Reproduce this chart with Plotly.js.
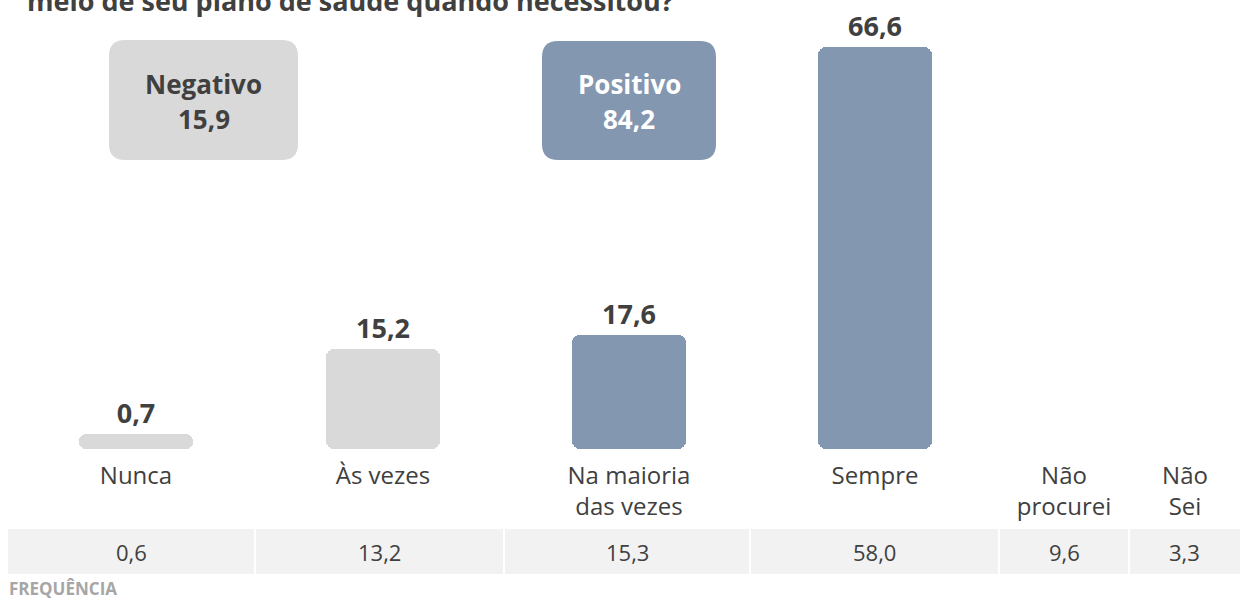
<!DOCTYPE html>
<html>
<head>
<meta charset="utf-8">
<script src="https://cdn.plot.ly/plotly-3.0.1.min.js"></script>
<style>
  body { margin: 0; background: #fff; }
  #chart { width: 1247px; height: 600px; }
</style>
</head>
<body>
<div id="chart"></div>
<script>
// answers with a bar (valid %), plus the two extra columns of the table
var categories = ["Nunca", "Às vezes", "Na maioria<br>das vezes", "Sempre", "Não<br>procurei", "Não<br>Sei"];
var validPct = [0.7, 15.2, 17.6, 66.6];
var frequency = [0.6, 13.2, 15.3, 58.0, 9.6, 3.3];
var negLabel = "Negativo";
var posLabel = "Positivo";
var titleLine = "meio de seu plano de saúde quando necessitou?";
var footLabel = "FREQUÊNCIA";

// layout stuff (pixels of the plot area, x axis runs 0..1232)
var colEdges = [0, 247, 496, 742, 991, 1121, 1232];
var xPos = [128, 375, 621, 867, 1056, 1177];
var grey = "#d9d9d9", blue = "#8497b0", dark = "#404040";
var plotH = 449;      // plot area height in px (t = 0)
var stub = 1.82;      // bars in the original start a bit below zero

function fmt(v) { return v.toFixed(1).replace(".", ","); }
function py(p) { return (plotH - p) / plotH; }   // pixel y -> paper y
function px(p) { return (p - 8) / 1232; }        // pixel x -> paper x

// rounded box as a path in paper coords
function roundBox(x0, y0, x1, y1, r) {
  return "M" + px(x0 + r) + "," + py(y0) +
    " L" + px(x1 - r) + "," + py(y0) +
    " Q" + px(x1) + "," + py(y0) + " " + px(x1) + "," + py(y0 + r) +
    " L" + px(x1) + "," + py(y1 - r) +
    " Q" + px(x1) + "," + py(y1) + " " + px(x1 - r) + "," + py(y1) +
    " L" + px(x0 + r) + "," + py(y1) +
    " Q" + px(x0) + "," + py(y1) + " " + px(x0) + "," + py(y1 - r) +
    " L" + px(x0) + "," + py(y0 + r) +
    " Q" + px(x0) + "," + py(y0) + " " + px(x0 + r) + "," + py(y0) + " Z";
}

var negTotal = validPct[0] + validPct[1];
var posTotal = validPct[2] + validPct[3];

var trace = {
  type: "bar",
  x: xPos.slice(0, 4),
  y: validPct.map(function (v) { return v + stub; }),
  base: -stub,
  customdata: validPct,
  width: 114,
  marker: { color: [grey, grey, blue, blue], cornerradius: 8, line: { width: 0 } },
  texttemplate: "%{customdata:.1f}",
  textposition: "outside",
  cliponaxis: false,
  textfont: { family: "Open Sans", size: 27, weight: "bold", color: dark },
  hoverinfo: "skip"
};

var shapes = [
  { type: "path", xref: "paper", yref: "paper", path: roundBox(109, 40, 298, 160, 16),
    fillcolor: grey, line: { width: 0 }, layer: "below" },
  { type: "path", xref: "paper", yref: "paper", path: roundBox(542, 41, 716, 160, 16),
    fillcolor: blue, line: { width: 0 }, layer: "below" }
];
for (var i = 0; i < frequency.length; i++) {
  shapes.push({
    type: "rect", xref: "x", yref: "paper",
    x0: colEdges[i] + (i ? 1 : 0), x1: colEdges[i + 1] - (i < frequency.length - 1 ? 1 : 0),
    y0: py(529), y1: py(574),
    fillcolor: "#f2f2f2", line: { width: 0 }
  });
}

function boxText(x, y, txt, col) {
  return { xref: "paper", yref: "paper", x: px(x), y: py(y), xanchor: "center", yanchor: "middle",
    text: txt, showarrow: false,
    font: { family: "Open Sans", size: 26, weight: "bold", color: col } };
}

var annotations = [
  { xref: "paper", yref: "paper", x: px(25), y: py(21), xanchor: "left", yanchor: "bottom",
    text: titleLine, showarrow: false,
    font: { family: "Open Sans", size: 27, weight: "bold", color: dark } },
  boxText(203.5, 84, negLabel, dark),
  boxText(203.5, 119, fmt(negTotal), dark),
  boxText(629, 84, posLabel, "#ffffff"),
  boxText(629, 119, fmt(posTotal), "#ffffff"),
  { xref: "paper", yref: "paper", x: 0, y: py(588), xanchor: "left", yanchor: "middle",
    text: footLabel, showarrow: false, borderpad: 0,
    font: { family: "Open Sans", size: 17, weight: "bold", color: "#a6a6a6" } }
];
frequency.forEach(function (f, i) {
  annotations.push({
    xref: "x", yref: "paper", x: (colEdges[i] + colEdges[i + 1]) / 2, y: py(552),
    xanchor: "center", yanchor: "middle", text: fmt(f), showarrow: false,
    font: { family: "Open Sans", size: 22, color: dark }
  });
});

var layout = {
  width: 1247,
  height: 600,
  margin: { l: 8, r: 7, t: 0, b: 151, autoexpand: false },
  paper_bgcolor: "#ffffff",
  plot_bgcolor: "#ffffff",
  separators: ",.",
  showlegend: false,
  bargap: 0,
  xaxis: {
    range: [0, 1232],
    tickvals: xPos,
    ticktext: categories,
    ticks: "",
    ticklabelstandoff: 10,
    showgrid: false,
    zeroline: false,
    showline: false,
    fixedrange: true,
    tickfont: { family: "Open Sans", size: 24, color: dark }
  },
  yaxis: {
    range: [-stub, 74.6],
    visible: false,
    showgrid: false,
    zeroline: false,
    fixedrange: true
  },
  shapes: shapes,
  annotations: annotations
};

Plotly.newPlot("chart", [trace], layout, { displayModeBar: false, staticPlot: true });
</script>
</body>
</html>
